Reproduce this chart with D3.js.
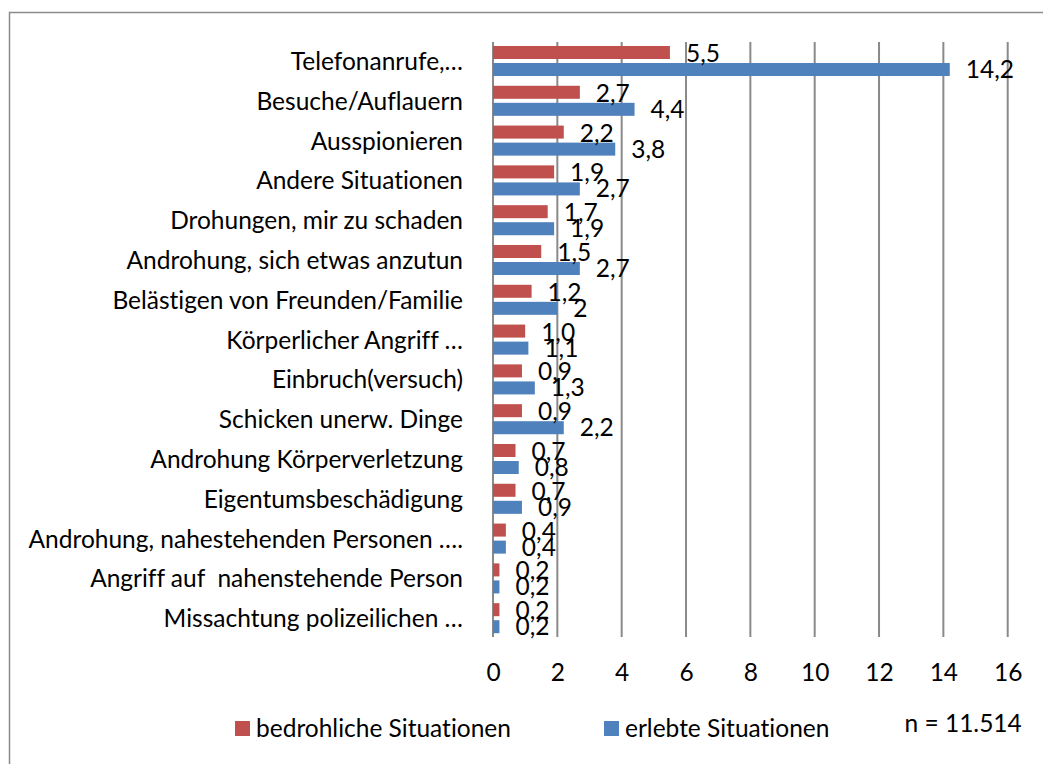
<!DOCTYPE html>
<html>
<head>
<meta charset="utf-8">
<script src="https://cdn.jsdelivr.net/npm/d3@7/dist/d3.min.js"></script>
<style>
  html, body { margin: 0; padding: 0; background: #fff; }
  svg { display: block; }
  text { font-family: Lato, "Open Sans", sans-serif; fill: #000; font-variant-ligatures: none; white-space: pre; }
</style>
</head>
<body>
<svg id="chart" width="1043" height="764"></svg>
<script>
const categories = [
  "Telefonanrufe,…",
  "Besuche/Auflauern",
  "Ausspionieren",
  "Andere Situationen",
  "Drohungen, mir zu schaden",
  "Androhung, sich etwas anzutun",
  "Belästigen von Freunden/Familie",
  "Körperlicher Angriff …",
  "Einbruch(versuch)",
  "Schicken unerw. Dinge",
  "Androhung Körperverletzung",
  "Eigentumsbeschädigung",
  "Androhung, nahestehenden Personen ….",
  "Angriff auf  nahenstehende Person",
  "Missachtung polizeilichen …"
];
const bedrohlich = [5.5, 2.7, 2.2, 1.9, 1.7, 1.5, 1.2, 1.0, 0.9, 0.9, 0.7, 0.7, 0.4, 0.2, 0.2];
const bedrohlichLabels = ["5,5", "2,7", "2,2", "1,9", "1,7", "1,5", "1,2", "1,0", "0,9", "0,9", "0,7", "0,7", "0,4", "0,2", "0,2"];
const erlebt = [14.2, 4.4, 3.8, 2.7, 1.9, 2.7, 2.0, 1.1, 1.3, 2.2, 0.8, 0.9, 0.4, 0.2, 0.2];
const erlebtLabels = ["14,2", "4,4", "3,8", "2,7", "1,9", "2,7", "2", "1,1", "1,3", "2,2", "0,8", "0,9", "0,4", "0,2", "0,2"];
const xTicks = [0, 2, 4, 6, 8, 10, 12, 14, 16];
const seriesNames = ["bedrohliche Situationen", "erlebte Situationen"];
const noteText = "n = 11.514";

const RED = "#C0504D", BLUE = "#4F81BD", GRID = "#8a8a8a";
const FS = "24.5px";

const svg = d3.select("#chart");

// outer frame
svg.append("rect")
  .attr("x", 9.5).attr("y", 12.5)
  .attr("width", 1100).attr("height", 800)
  .attr("fill", "none").attr("stroke", "#8c8c8c").attr("stroke-width", 1.5);

const x = d3.scaleLinear().domain([0, 16]).range([493, 1007.7]);
const y = d3.scaleBand().domain(categories).range([42, 639]).padding(0);
const bw = y.bandwidth();
const barH = bw * 0.327;
const redOff = bw * 0.1;
const blueOff = bw * 0.528;

// gridlines
svg.append("g").selectAll("line").data(xTicks).join("line")
  .attr("x1", d => x(d)).attr("x2", d => x(d))
  .attr("y1", 42).attr("y2", 637)
  .attr("stroke", GRID).attr("stroke-width", 2);

// x axis tick labels
const xAxis = d3.axisBottom(x).tickValues(xTicks).tickSize(0).tickPadding(0).tickFormat(d3.format("d"));
const gx = svg.append("g").attr("transform", "translate(0,681)").call(xAxis);
gx.select(".domain").remove();
gx.selectAll("text").attr("dy", 0).attr("y", 0)
  .style("font-family", "Lato, sans-serif").style("font-size", FS).attr("fill", "#000");

// category labels
svg.append("g").selectAll("text").data(categories).join("text")
  .attr("x", 463)
  .attr("y", d => y(d) + bw / 2 + 8)
  .attr("text-anchor", "end")
  .style("font-size", FS)
  .text(d => d);

// bars
const redData = categories.map((c, i) => ({c, v: bedrohlich[i], l: bedrohlichLabels[i]}));
const blueData = categories.map((c, i) => ({c, v: erlebt[i], l: erlebtLabels[i]}));

svg.append("g").selectAll("rect").data(redData).join("rect")
  .attr("x", x(0)).attr("y", d => y(d.c) + redOff)
  .attr("width", d => x(d.v) - x(0)).attr("height", barH)
  .attr("fill", RED);

svg.append("g").selectAll("rect").data(blueData).join("rect")
  .attr("x", x(0)).attr("y", d => y(d.c) + blueOff)
  .attr("width", d => x(d.v) - x(0)).attr("height", barH)
  .attr("fill", BLUE);

// value labels
svg.append("g").selectAll("text").data(redData).join("text")
  .attr("x", d => x(d.v) + 16)
  .attr("y", d => y(d.c) + redOff + barH / 2 + 9.5)
  .style("font-size", FS)
  .text(d => d.l);

svg.append("g").selectAll("text").data(blueData).join("text")
  .attr("x", d => x(d.v) + 16)
  .attr("y", d => y(d.c) + blueOff + barH / 2 + 8.5)
  .style("font-size", FS)
  .text(d => d.l);

// legend
const legend = [
  {name: seriesNames[0], color: RED, x: 235},
  {name: seriesNames[1], color: BLUE, x: 604}
];
const lg = svg.append("g").selectAll("g").data(legend).join("g")
  .attr("transform", d => `translate(${d.x},721)`);
lg.append("rect").attr("width", 15).attr("height", 15).attr("fill", d => d.color);
lg.append("text").attr("x", 21).attr("y", 16).style("font-size", FS).text(d => d.name);

svg.append("text").attr("x", 904.5).attr("y", 731.5).style("font-size", FS).text(noteText);
</script>
</body>
</html>
